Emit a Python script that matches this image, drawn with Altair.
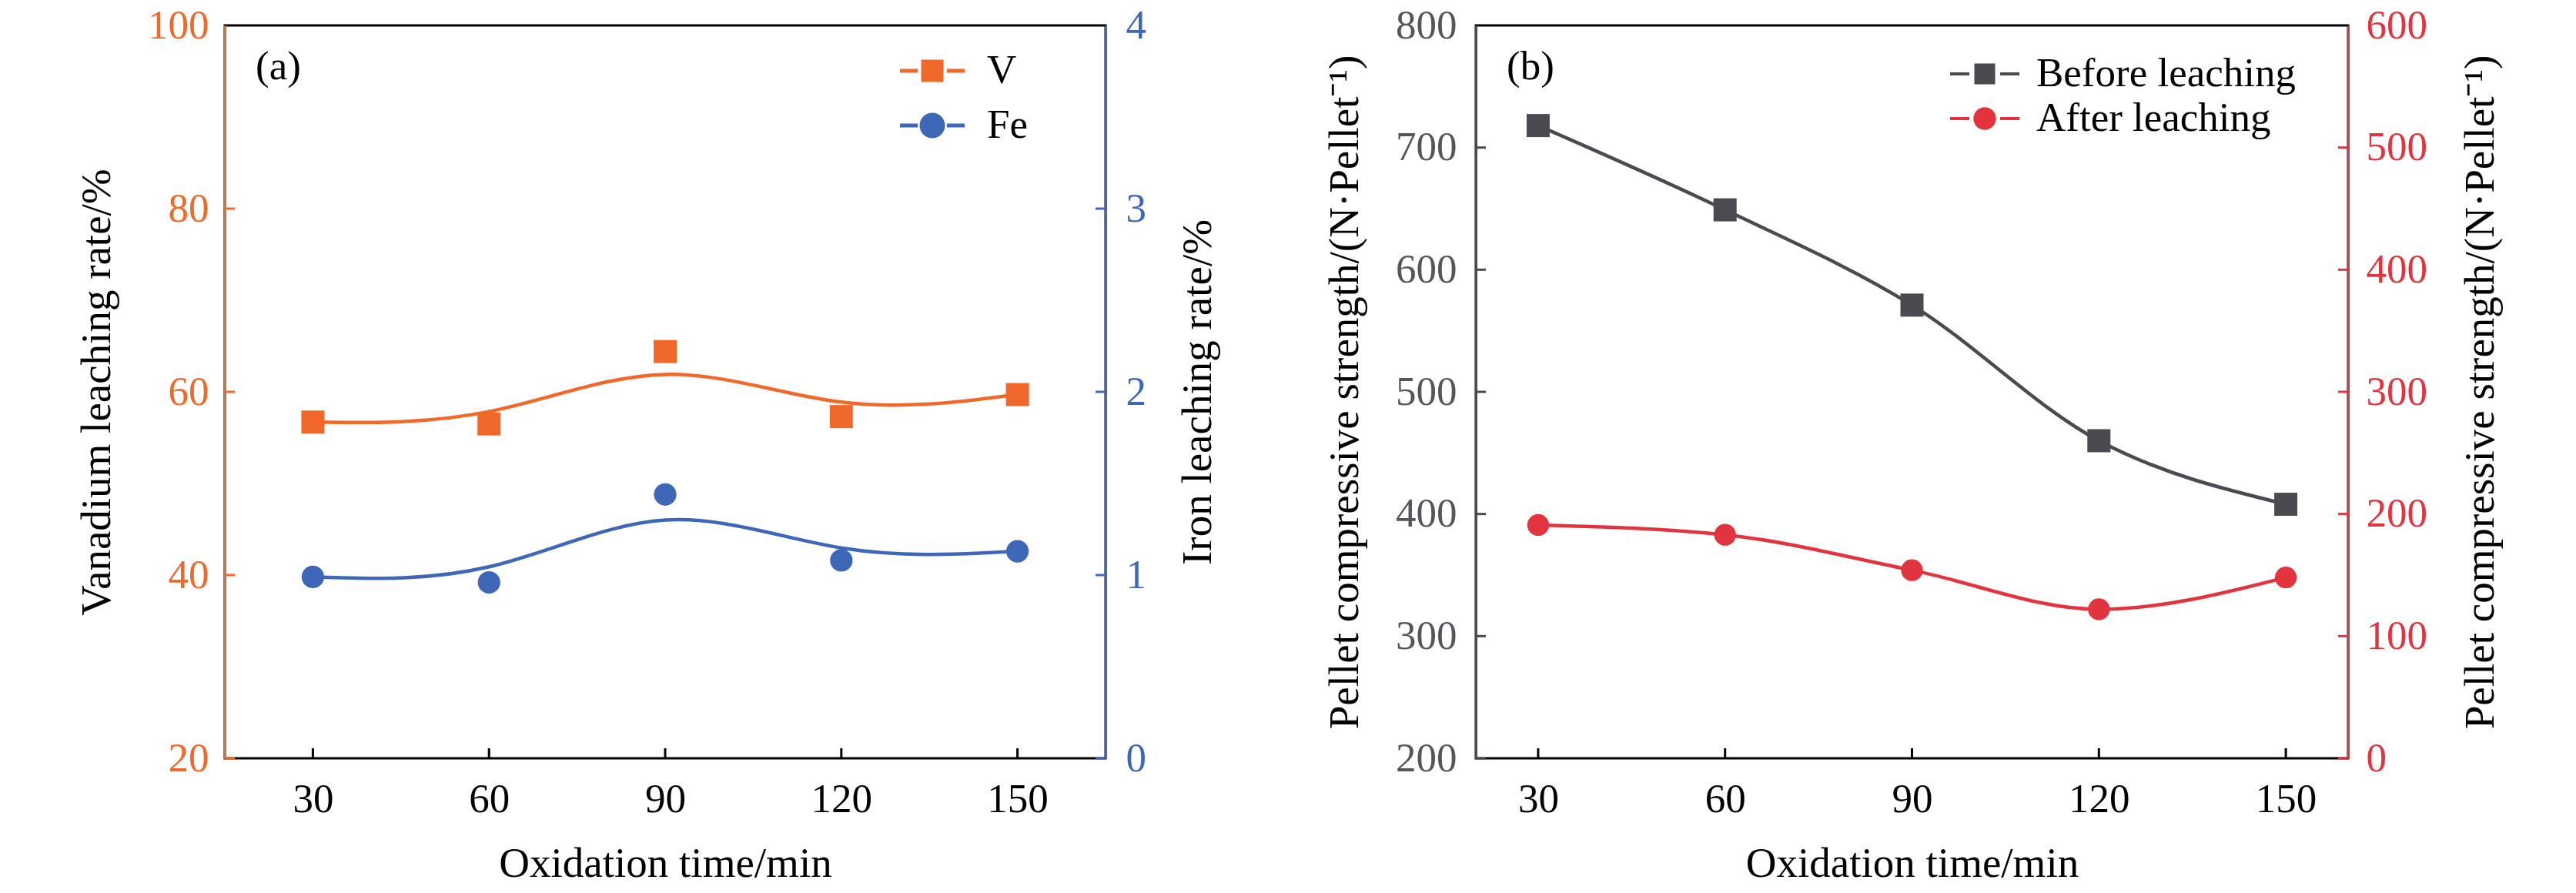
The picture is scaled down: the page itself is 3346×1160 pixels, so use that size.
import altair as alt
import pandas as pd

# ---------------- data ----------------
time = [30, 60, 90, 120, 150]
v_rate = [56.7, 56.5, 64.4, 57.3, 59.7]
fe_rate = [0.99, 0.96, 1.44, 1.08, 1.13]
before = [718, 649, 571, 460, 408]
after = [191, 183, 154, 122, 148]

x_ticks = [30, 60, 90, 120, 150]
v_ticks = [20, 40, 60, 80, 100]
fe_ticks = [0, 1, 2, 3, 4]
b_ticks = [200, 300, 400, 500, 600, 700, 800]
a_ticks = [0, 100, 200, 300, 400, 500, 600]

series_a = ["V", "Fe"]
series_b = ["Before leaching", "After leaching"]
panel_a_label = ["(a)"]
panel_b_label = ["(b)"]

# ---------------- style ----------------
FONT = "Liberation Serif"
ORANGE = "#F0692A"
BLUE = "#3F67B7"
GREY = "#4A4B50"
GREYLAB = "#55565B"
RED = "#E2343F"
LAB = 53
TIT = 55
H = 952
WA = 1144
WB = 1133
TICK = 13
LW = 4.5


def legend_paths(sq_half, circ_r, bar_in, bar_out, bar_half):
    bars = (f"M{-bar_out},{-bar_half}H{-bar_in}V{bar_half}H{-bar_out}Z"
            f"M{bar_in},{-bar_half}H{bar_out}V{bar_half}H{bar_in}Z")
    sq = f"M{-sq_half},{-sq_half}H{sq_half}V{sq_half}H{-sq_half}Z" + bars
    ci = (f"M{circ_r},0A{circ_r},{circ_r},0,1,1,{-circ_r},0"
          f"A{circ_r},{circ_r},0,1,1,{circ_r},0Z") + bars
    return sq, ci


def x_axis():
    return alt.Axis(values=x_ticks, labelFontSize=LAB, labelColor="black", labelFont=FONT,
                    labelPadding=27, ticks=False, tickSize=0, domain=False, grid=False,
                    title="Oxidation time/min", titleFontSize=TIT, titleFont=FONT,
                    titleColor="black", titleFontWeight="normal", titlePadding=30)


def y_axis(values, orient, color, labcolor, title, labpad, titpad):
    kw = dict(values=values, orient=orient, labelFontSize=LAB, labelColor=labcolor,
              labelFont=FONT, labelPadding=labpad, ticks=False, tickSize=0,
              domain=True, domainColor=color, domainWidth=3, grid=False,
              title=title, titleFontSize=TIT, titleFont=FONT, titleColor="black",
              titleFontWeight="normal", titlePadding=titpad, titleAngle=270)
    if orient == "right":
        kw["titleBaseline"] = "top"
    return alt.Axis(**kw)


def panel(df, width, xdom, lfield, rfield, lscale, rscale, laxis, raxis, lticks, rticks,
          lcolor, rcolor, interp, lsize, rsize, series, sfield, paths, legpos, label):
    X = alt.X("t:Q", scale=alt.Scale(domain=xdom, nice=False, zero=False), axis=x_axis())
    YL = alt.Y(f"{lfield}:Q", scale=lscale, axis=laxis)
    YR = alt.Y(f"{rfield}:Q", scale=rscale, axis=raxis)
    base = alt.Chart(df)

    l_line = base.mark_line(interpolate=interp, color=lcolor, strokeWidth=LW).encode(x=X, y=YL)
    l_pts = base.mark_square(size=lsize, color=lcolor, opacity=1).encode(x=X, y=YL)

    lx, ly, rowpad, laboff = legpos
    leg = alt.Legend(orient="none", legendX=lx, legendY=ly, title=None, labelFont=FONT,
                     labelFontSize=LAB, labelColor="black", symbolSize=3600,
                     symbolStrokeWidth=0, rowPadding=rowpad, labelOffset=laboff,
                     padding=0, symbolOpacity=1, labelLimit=0)
    legdf = pd.DataFrame({sfield: series, "t": time[:2], lfield: df[lfield].tolist()[:2]})
    l_leg = alt.Chart(legdf).transform_filter("false").mark_point(filled=True, opacity=1).encode(
        x=X, y=YL,
        color=alt.Color(f"{sfield}:N", scale=alt.Scale(domain=series, range=[lcolor, rcolor]), legend=leg),
        shape=alt.Shape(f"{sfield}:N", scale=alt.Scale(domain=series, range=list(paths)), legend=leg),
    )
    l_tk = alt.Chart(pd.DataFrame({lfield: lticks[:-1]})).mark_rule(color=lcolor, strokeWidth=3).encode(
        y=YL, x=alt.value(0), x2=alt.value(TICK))
    x_tk = alt.Chart(pd.DataFrame({"t": x_ticks})).mark_rule(color="black", strokeWidth=3).encode(
        x=X, y=alt.value(H), y2=alt.value(H - TICK))
    txt = alt.Chart(pd.DataFrame({"lab": label})).mark_text(
        align="left", baseline="alphabetic", fontSize=LAB, font=FONT, color="black").encode(
        text="lab:N", x=alt.value(40), y=alt.value(70))

    r_line = base.mark_line(interpolate=interp, color=rcolor, strokeWidth=LW).encode(x=X, y=YR)
    r_pts = base.mark_circle(size=rsize, color=rcolor, opacity=1).encode(x=X, y=YR)
    r_tk = alt.Chart(pd.DataFrame({rfield: rticks[:-1]})).mark_rule(color=rcolor, strokeWidth=3).encode(
        y=YR, x=alt.value(width), x2=alt.value(width - TICK))

    left = alt.layer(l_line, l_pts, l_leg, l_tk, x_tk, txt)
    right = alt.layer(r_line, r_pts, r_tk)
    return alt.layer(left, right).resolve_scale(y="independent").properties(width=width, height=H)


dfa = pd.DataFrame({"t": time, "v": v_rate, "fe": fe_rate})
dfb = pd.DataFrame({"t": time, "b": before, "a": after})

pa = panel(
    dfa, WA, [15, 165], "v", "fe",
    alt.Scale(domain=[20, 100], nice=False, zero=False),
    alt.Scale(domain=[0, 4], nice=False, zero=False),
    y_axis(v_ticks, "left", ORANGE, ORANGE, "Vanadium leaching rate/%", 21, 37),
    y_axis(fe_ticks, "right", BLUE, BLUE, "Iron leaching rate/%", 26, 41),
    v_ticks, fe_ticks, ORANGE, BLUE, "basis", 900, 855,
    series_a, "sa", legend_paths(0.483, 0.55, 0.63, 1.4, 0.083), (889, 29, 14, 41), panel_a_label,
)

pb = panel(
    dfb, WB, [20, 160], "b", "a",
    alt.Scale(domain=[200, 800], nice=False, zero=False),
    alt.Scale(domain=[0, 600], nice=False, zero=False),
    y_axis(b_ticks, "left", GREY, GREYLAB, "Pellet compressive strength/(N\u00b7Pellet\u207b\u00b9)", 25, 37),
    y_axis(a_ticks, "right", RED, RED, "Pellet compressive strength/(N\u00b7Pellet\u207b\u00b9)", 23, 43),
    b_ticks, a_ticks, GREY, RED, "monotone", 900, 800,
    series_b, "sb", legend_paths(0.45, 0.49, 0.667, 1.5, 0.067), (631, 33, 1, 37), panel_b_label,
)

chart = alt.hconcat(pa, pb, spacing=132).resolve_scale(
    color="independent", shape="independent"
).properties(
    padding={"left": 88, "top": -3, "right": 0, "bottom": 0}
).configure(font=FONT).configure_view(stroke="black", strokeWidth=3).configure_text(font=FONT)

chart.save("out.html", embed_options={"renderer": "svg", "actions": False})
